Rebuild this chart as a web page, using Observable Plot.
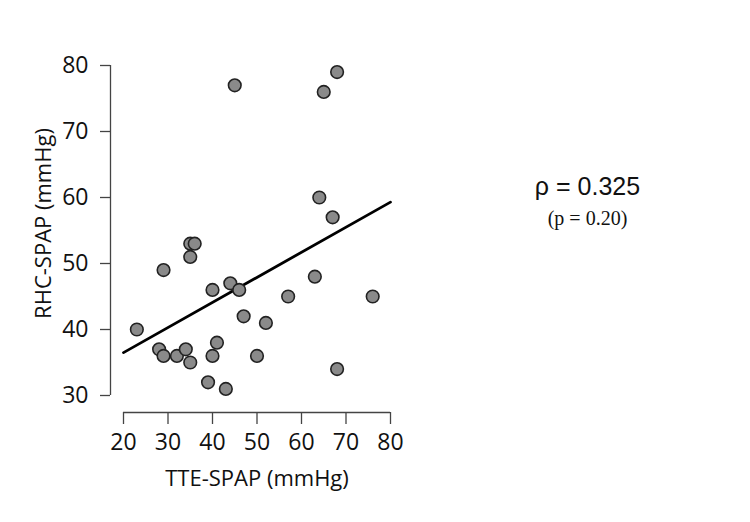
<!DOCTYPE html>
<html>
<head>
<meta charset="utf-8">
<script src="https://cdn.jsdelivr.net/npm/d3@7"></script>
<script src="https://cdn.jsdelivr.net/npm/@observablehq/plot@0.6"></script>
<style>
  html, body { margin: 0; padding: 0; background: #fff; }
  svg { display: block; }
</style>
</head>
<body>
<div id="chart"></div>
<script>
const tteSpap = [23, 28, 29, 29, 32, 34, 35, 35, 35, 36, 39, 40, 40, 41, 43, 44, 45, 46, 47, 50, 52, 57, 63, 64, 65, 67, 68, 68, 76];
const rhcSpap = [40, 37, 36, 49, 36, 37, 35, 51, 53, 53, 32, 36, 46, 38, 31, 47, 77, 46, 42, 36, 41, 45, 48, 60, 76, 57, 79, 34, 45];
const xTicks = [20, 30, 40, 50, 60, 70, 80];
const yTicks = [30, 40, 50, 60, 70, 80];
const fitX = [20, 80];
const fitY = [36.5, 59.3];
const rhoText = "ρ = 0.325";
const pText = "(p = 0.20)";

const points = tteSpap.map((x, i) => ({x, y: rhcSpap[i]}));
const fit = fitX.map((x, i) => ({x, y: fitY[i]}));

const font = "'Open Sans', 'DejaVu Sans', sans-serif";

const chart = Plot.plot({
  width: 750,
  height: 522,
  marginLeft: 123,
  marginRight: 360,
  marginTop: 65,
  marginBottom: 127,
  style: {background: "#fff", color: "#111", fontFamily: font},
  x: {domain: [20, 80], ticks: xTicks},
  y: {domain: [30, 80], ticks: yTicks},
  marks: [
    Plot.axisY({ticks: yTicks, tickSize: 10, tickPadding: 12, dx: -13, fontSize: 23, label: null, stroke: "#444", strokeWidth: 1.3, fill: "#111"}),
    Plot.ruleX([d3.min(xTicks)], {y1: d3.min(yTicks), y2: d3.max(yTicks), dx: -13, stroke: "#444", strokeWidth: 1.3}),
    Plot.axisX({ticks: xTicks, tickSize: 12, tickPadding: 9, dy: 17, fontSize: 23, label: null, stroke: "#444", strokeWidth: 1.3, fill: "#111"}),
    Plot.ruleY([d3.min(yTicks)], {x1: d3.min(xTicks), x2: d3.max(xTicks), dy: 17, stroke: "#444", strokeWidth: 1.3}),
    Plot.line(fit, {x: "x", y: "y", stroke: "#000", strokeWidth: 2.8}),
    Plot.dot(points, {x: "x", y: "y", r: 6.3, fill: "#8a8a8a", stroke: "#222", strokeWidth: 1.6}),
    Plot.text(["TTE-SPAP (mmHg)"], {frameAnchor: "bottom", dy: 90, fontSize: 22, fill: "#111", fontFamily: font}),
    Plot.text(["RHC-SPAP (mmHg)"], {frameAnchor: "left", dx: -80, dy: -7, rotate: -90, textAnchor: "middle", fontSize: 22, fill: "#111", fontFamily: font}),
    Plot.text([rhoText], {frameAnchor: "top-right", dx: 197, dy: 121, textAnchor: "middle", lineAnchor: "middle", fontSize: 25, fill: "#111", fontFamily: "'Liberation Sans', Arial, sans-serif"}),
    Plot.text([pText], {frameAnchor: "top-right", dx: 197, dy: 153, textAnchor: "middle", lineAnchor: "middle", fontSize: 20, fill: "#111", fontFamily: "'Liberation Serif', 'Times New Roman', serif"})
  ]
});
document.getElementById("chart").appendChild(chart);
</script>
</body>
</html>
